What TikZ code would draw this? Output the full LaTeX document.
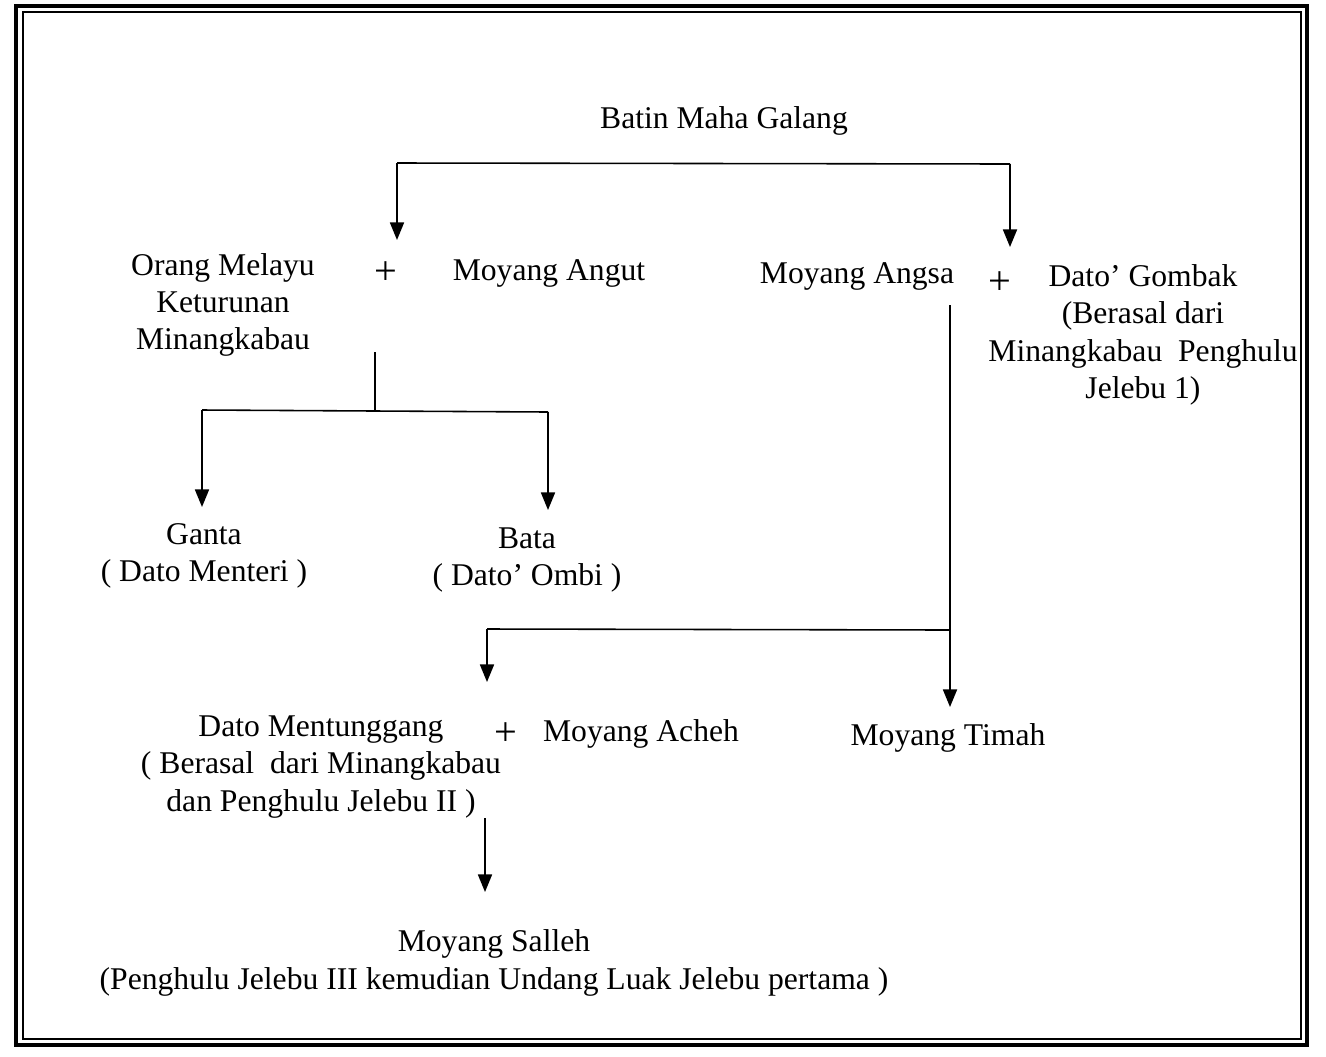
\documentclass[tikz,border=0pt]{standalone}
\usepackage{fontspec}
\setmainfont{Liberation Serif}
\usetikzlibrary{positioning, arrows.meta}

\begin{document}
\begin{tikzpicture}[
  x=0.02cm, y=-0.02cm,
  >={Triangle[width=8pt,length=10pt]},
  every node/.style={font=\fontsize{18}{21.3}\selectfont, inner sep=0pt},
  person/.style={align=center},
  plus/.style={font=\fontsize{23}{25}\selectfont},
  link/.style={line width=0.9pt}
]
\useasboundingbox (0,0) rectangle (1326,1056);
% Frame -- double rule
\draw[line width=2.4pt] (16,6) rectangle (1307,1045);
\draw[line width=0.7pt] (23,12) rectangle (1301,1039);

% First generation
\node[person] (batin) at (724,121) {Batin Maha Galang};

% Second generation
\node[person] (orang) at (223,305) {Orang Melayu\\Keturunan\\Minangkabau};
\node[plus] (plusA) at (386,273) {+};
\node[person] (angut) at (549,273) {Moyang Angut};
\node[person] (angsa) at (857,276) {Moyang Angsa};
\node[plus] (plusB) at (1000,283) {+};
\node[person] (gombak) at (1143,335) {Dato’ Gombak\\(Berasal dari\\Minangkabau~~Penghulu\\Jelebu 1)};

% Third generation
\node[person] (ganta) at (204,556) {Ganta\\( Dato Menteri )};
\node[person] (bata) at (527,560) {Bata\\( Dato’ Ombi )};
\node[person] (mentunggang) at (321,767) {Dato Mentunggang\\( Berasal~~dari Minangkabau\\dan Penghulu Jelebu II )};
\node[plus] (plusC) at (506,734) {+};
\node[person] (acheh) at (641,734) {Moyang Acheh};
\node[person] (timah) at (948,738) {Moyang Timah};

% Fourth generation
\node[person] (salleh) at (494,963) {Moyang Salleh\\(Penghulu Jelebu III kemudian Undang Luak Jelebu pertama )};

% Junction points and arrow ends
\coordinate (topL) at (397,163);
\coordinate (topR) at (1010,164);
\coordinate (tipA) at (397,240);
\coordinate (tipB) at (1010,247);
\coordinate (stemA) at (375,352);
\coordinate (forkA) at (375,411);
\coordinate (forkAL) at (202,410);
\coordinate (forkAR) at (548,412);
\coordinate (tipG) at (202,507);
\coordinate (tipBt) at (548,510);
\coordinate (stemB) at (950,305);
\coordinate (forkB) at (950,630);
\coordinate (forkBL) at (487,629);
\coordinate (tipM) at (487,682);
\coordinate (tipT) at (950,707);
\coordinate (stemC) at (485,818);
\coordinate (tipS) at (485,892);

% Connectors
\draw[link] (topL) -- (topR);
\draw[link,->] (topL) -- (tipA);
\draw[link,->] (topR) -- (tipB);
\draw[link] (stemA) -- (forkA);
\draw[link] (forkAL) -- (forkA) -- (forkAR);
\draw[link,->] (forkAL) -- (tipG);
\draw[link,->] (forkAR) -- (tipBt);
\draw[link,->] (stemB) -- (tipT);
\draw[link] (forkB) -- (forkBL);
\draw[link,->] (forkBL) -- (tipM);
\draw[link,->] (stemC) -- (tipS);

\end{tikzpicture}
\end{document}
